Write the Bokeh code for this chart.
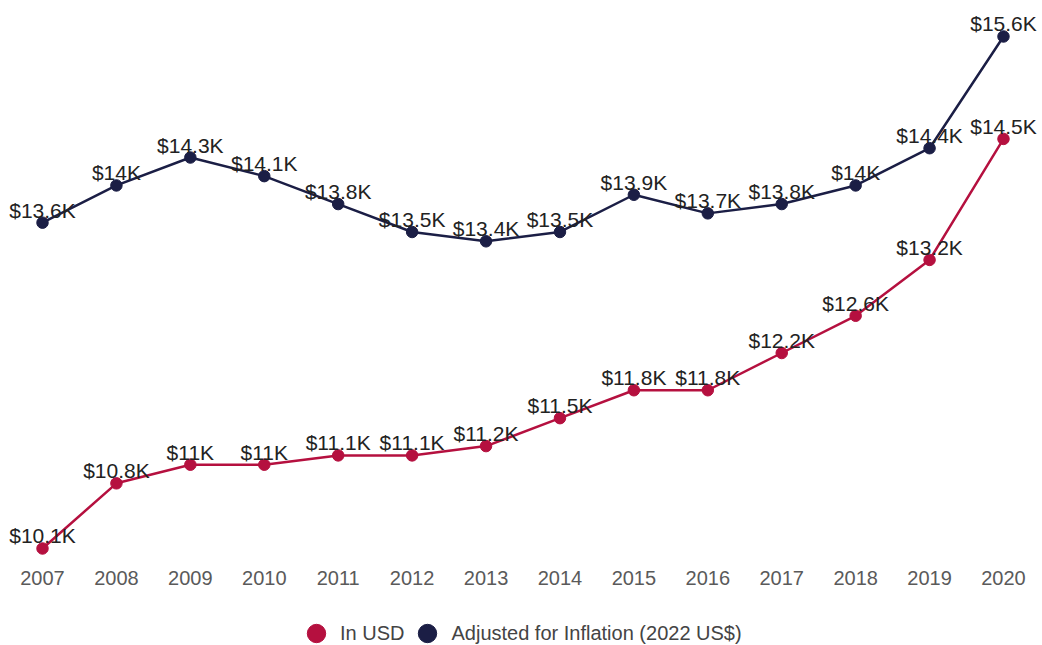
from bokeh.plotting import figure
from bokeh.layouts import column
from bokeh.models import ColumnDataSource, Range1d, FixedTicker, Legend, LegendItem
from bokeh.core.properties import value
from bokeh.embed import file_html
from bokeh.resources import INLINE

years = [2007, 2008, 2009, 2010, 2011, 2012, 2013, 2014, 2015, 2016, 2017, 2018, 2019, 2020]
tick_labels = [str(y) for y in years]
in_usd = [10.1, 10.8, 11.0, 11.0, 11.1, 11.1, 11.2, 11.5, 11.8, 11.8, 12.2, 12.6, 13.2, 14.5]
adjusted = [13.6, 14.0, 14.3, 14.1, 13.8, 13.5, 13.4, 13.5, 13.9, 13.7, 13.8, 14.0, 14.4, 15.6]
series_names = ["In USD", "Adjusted for Inflation (2022 US$)"]
RED = "#B5103F"
NAVY = "#1B1E45"
FONT = "Liberation Sans"


def fmt(v):
    return f"${v:g}K"


p = figure(width=1042, height=600, output_backend="svg", toolbar_location=None,
           x_range=Range1d(2006.4318, 2020.5276), y_range=Range1d(9.9066, 15.9867),
           min_border_left=0, min_border_right=0, min_border_top=0, min_border_bottom=34)
p.outline_line_color = None
p.background_fill_color = "white"
p.border_fill_color = "white"
p.xgrid.visible = False
p.ygrid.visible = False
p.yaxis.visible = False

ax = p.xaxis[0]
ax.ticker = FixedTicker(ticks=years)
ax.major_label_overrides = {y: l for y, l in zip(years, tick_labels)}
ax.axis_line_color = None
ax.major_tick_line_color = None
ax.minor_tick_line_color = None
ax.major_tick_out = 0
ax.major_label_standoff = 4
ax.major_label_text_font = FONT
ax.major_label_text_font_size = "20px"
ax.major_label_text_color = "#5a5a5a"

for vals, color in [(adjusted, NAVY), (in_usd, RED)]:
    src = ColumnDataSource(dict(x=years, y=vals, label=[fmt(v) for v in vals]))
    p.line("x", "y", source=src, line_color=color, line_width=2.5)
    p.scatter("x", "y", source=src, size=11.5, fill_color=color, line_color=color)
    p.text("x", "y", text="label", source=src, text_align="center", text_baseline="bottom",
           y_offset=-1, text_font=value(FONT), text_font_size="21px", text_color="#222222")

# legend strip below the chart
pl = figure(width=1042, height=45, output_backend="svg", toolbar_location=None,
            x_range=Range1d(0, 1), y_range=Range1d(0, 1),
            min_border_left=0, min_border_right=0, min_border_top=0, min_border_bottom=0)
pl.outline_line_color = None
pl.xaxis.visible = False
pl.yaxis.visible = False
pl.xgrid.visible = False
pl.ygrid.visible = False
r_usd = pl.scatter(years, in_usd, size=11, fill_color=RED, line_color=RED)
r_adj = pl.scatter(years, adjusted, size=11, fill_color=NAVY, line_color=NAVY)
legend = Legend(items=[LegendItem(label=series_names[0], renderers=[r_usd]),
                       LegendItem(label=series_names[1], renderers=[r_adj])],
                orientation="horizontal", location=(293, -11),
                glyph_width=46, glyph_height=46, label_standoff=1, spacing=0,
                padding=0, margin=0, border_line_color=None, background_fill_alpha=0,
                label_text_font=FONT, label_text_font_size="20px", label_text_color="#444444")
pl.add_layout(legend, "center")

layout = column(p, pl, spacing=0)
open("out.html", "w").write(file_html(layout, INLINE))
